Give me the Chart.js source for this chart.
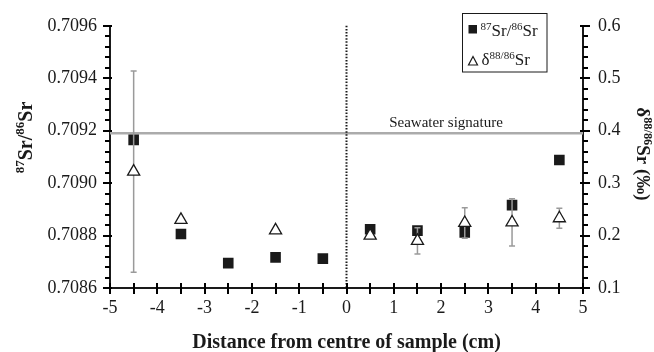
<!DOCTYPE html>
<html><head><meta charset="utf-8">
<script src="https://cdn.jsdelivr.net/npm/chart.js@4/dist/chart.umd.min.js"></script>
<style>html,body{margin:0;padding:0;background:#fff}#wrap{width:654px;height:352px}</style>
</head><body><div id="wrap"><canvas id="c" width="654" height="352"></canvas></div>
<script>
// ---- data ----
const distance = [-4.5, -3.5, -2.5, -1.5, -0.5, 0.5, 1.5, 2.5, 3.5, 4.5];
const sr8786 = [0.709165, 0.708806, 0.708695, 0.708717, 0.708712, 0.708824, 0.708819, 0.708812, 0.708916, 0.709088];
const d8886 = [0.322, 0.230, null, 0.210, null, 0.200, 0.190, 0.224, 0.225, 0.233];
const d8886Err = [0.192, 0, null, 0, null, 0, 0.025, 0.029, 0.045, 0.019];
const seawater8786 = 0.70919;
const xMajorTicks = [-5, -4, -3, -2, -1, 0, 1, 2, 3, 4, 5];
const leftMajorTicks = ['0.7086', '0.7088', '0.7090', '0.7092', '0.7094', '0.7096'];
const rightMajorTicks = ['0.1', '0.2', '0.3', '0.4', '0.5', '0.6'];

const FAM = "'Liberation Serif','Times New Roman',serif";
const INK = '#1a1a1a';

function near(v, arr) { return arr.some(a => Math.abs(Number(a) - v) < 1e-9); }
function fnt(size, bold) { return (bold ? 'bold ' : '') + size + 'px ' + FAM; }
function richWidth(ctx, parts, size, bold) {
  let w = 0;
  for (const [t, sup] of parts) { ctx.font = fnt(sup ? size * 0.65 : size, bold); w += ctx.measureText(t).width; }
  return w;
}
function drawRich(ctx, parts, x, y, size, bold, align) {
  const w = richWidth(ctx, parts, size, bold);
  let cx = align === 'center' ? x - w / 2 : x;
  ctx.textAlign = 'left'; ctx.textBaseline = 'alphabetic'; ctx.fillStyle = INK;
  for (const [t, sup] of parts) {
    ctx.font = fnt(sup ? size * 0.65 : size, bold);
    ctx.fillText(t, cx, sup ? y - size * 0.38 : y);
    cx += ctx.measureText(t).width;
  }
}
function tickValues(scale) {
  return (scale.ticks || []).map(t => t.value);
}

const decor = {
  id: 'decor',
  beforeDatasetsDraw(chart) {
    const {ctx, chartArea: a, scales} = chart;
    ctx.save();
    const ys = scales.y.getPixelForValue(seawater8786);
    ctx.strokeStyle = '#ababab'; ctx.lineWidth = 2.5;
    ctx.beginPath(); ctx.moveTo(a.left, ys); ctx.lineTo(a.right, ys); ctx.stroke();
    const x0 = scales.x.getPixelForValue(0);
    ctx.strokeStyle = INK; ctx.lineWidth = 2; ctx.setLineDash([1.5, 1.6]);
    ctx.beginPath(); ctx.moveTo(x0, a.top); ctx.lineTo(x0, a.bottom); ctx.stroke();
    ctx.setLineDash([]);
    ctx.fillStyle = INK; ctx.font = fnt(15, false); ctx.textAlign = 'center'; ctx.textBaseline = 'alphabetic';
    ctx.fillText('Seawater signature', 446, ys - 6);
    ctx.restore();
  },
  afterDatasetDraw(chart, args) {
    if (args.index !== 0) return;
    const {ctx, scales} = chart;
    ctx.save();
    ctx.strokeStyle = '#9a9a9a'; ctx.lineWidth = 1.5;
    distance.forEach((d, i) => {
      const v = d8886[i], e = d8886Err[i];
      if (v == null || !e) return;
      const x = scales.x.getPixelForValue(d);
      const yt = scales.y2.getPixelForValue(v + e), yb = scales.y2.getPixelForValue(v - e);
      ctx.beginPath();
      ctx.moveTo(x, yt); ctx.lineTo(x, yb);
      ctx.moveTo(x - 3, yt); ctx.lineTo(x + 3, yt);
      ctx.moveTo(x - 3, yb); ctx.lineTo(x + 3, yb);
      ctx.stroke();
    });
    ctx.restore();
  },
  afterDraw(chart) {
    const {ctx, chartArea: a, scales} = chart;
    ctx.save();
    ctx.setLineDash([]);
    ctx.strokeStyle = '#000'; ctx.lineWidth = 2;
    tickValues(scales.x).forEach(v => {
      const x = Math.round(scales.x.getPixelForValue(v));
      ctx.beginPath(); ctx.moveTo(x, a.bottom - 5); ctx.lineTo(x, a.bottom + 6); ctx.stroke();
    });
    tickValues(scales.y).forEach(v => {
      const y = Math.round(scales.y.getPixelForValue(v));
      const maj = near(v, leftMajorTicks);
      ctx.beginPath(); ctx.moveTo(a.left - (maj ? 7 : 5), y); ctx.lineTo(a.left + (maj ? 2 : 0), y); ctx.stroke();
    });
    tickValues(scales.y2).forEach(v => {
      const y = Math.round(scales.y2.getPixelForValue(v));
      const maj = near(v, rightMajorTicks);
      ctx.beginPath(); ctx.moveTo(a.right - (maj ? 3 : 0), y); ctx.lineTo(a.right + (maj ? 7 : 5), y); ctx.stroke();
    });
    ctx.save();
    ctx.translate(31.5, 137.5); ctx.rotate(-Math.PI / 2);
    drawRich(ctx, [['87', 1], ['Sr/', 0], ['86', 1], ['Sr', 0]], 0, 0, 20, true, 'center');
    ctx.restore();
    ctx.save();
    ctx.translate(636.5, 154); ctx.rotate(Math.PI / 2);
    drawRich(ctx, [['\u03b4', 0], ['88/86', 1], ['Sr (\u2030)', 0]], 0, 0, 19, true, 'center');
    ctx.restore();
    ctx.strokeStyle = INK; ctx.lineWidth = 1;
    ctx.strokeRect(462.5, 13.5, 84.5, 58.5);
    ctx.fillStyle = INK; ctx.fillRect(468.5, 25, 8.5, 8.5);
    ctx.beginPath(); ctx.moveTo(473, 56.5); ctx.lineTo(477.5, 65); ctx.lineTo(468.5, 65); ctx.closePath();
    ctx.fillStyle = '#fff'; ctx.fill(); ctx.lineWidth = 1.2; ctx.stroke();
    drawRich(ctx, [['87', 1], ['Sr/', 0], ['86', 1], ['Sr', 0]], 480.5, 36, 17, false, 'left');
    drawRich(ctx, [['\u03b4', 0], ['88/86', 1], ['Sr', 0]], 481.5, 65, 17, false, 'left');
    ctx.restore();
  }
};

const tickFont = {family: FAM, size: 18};

new Chart(document.getElementById('c'), {
  type: 'scatter',
  data: {
    datasets: [
      {
        label: '87Sr/86Sr', order: 1, yAxisID: 'y',
        data: distance.map((d, i) => ({x: d, y: sr8786[i]})),
        pointStyle: 'rect', pointRadius: 7.5, pointBackgroundColor: INK, pointBorderColor: INK, pointBorderWidth: 0,
        showLine: false
      },
      {
        label: '\u03b488/86Sr', order: 0, yAxisID: 'y2',
        data: distance.map((d, i) => ({x: d, y: d8886[i]})).filter(p => p.y != null),
        pointStyle: 'triangle', pointRadius: 7, pointBackgroundColor: '#fff', pointBorderColor: INK, pointBorderWidth: 1.3,
        showLine: false
      }
    ]
  },
  options: {
    responsive: false, animation: false, devicePixelRatio: 1,
    layout: {padding: {top: 17, left: 0, right: 0, bottom: 0}},
    plugins: {legend: {display: false}, tooltip: {enabled: false}},
    scales: {
      x: {
        type: 'linear', position: 'bottom', min: -5, max: 5,
        ticks: {stepSize: 0.5, autoSkip: false, maxRotation: 0, padding: 9, font: tickFont, color: INK,
          callback: v => near(v, xMajorTicks) ? String(Math.round(v)) : ''},
        grid: {display: false, drawTicks: false},
        border: {display: true, color: INK, width: 2},
        title: {display: true, text: 'Distance from centre of sample (cm)', color: INK,
          font: {family: FAM, size: 20, weight: 'bold', lineHeight: 0.9}, padding: 0},
        afterFit: s => { s.height = 64; }
      },
      y: {
        type: 'linear', position: 'left', min: 0.7086, max: 0.7096,
        ticks: {stepSize: 0.00004, autoSkip: false, padding: 13, font: tickFont, color: INK,
          callback: v => { const m = leftMajorTicks.find(a => Math.abs(Number(a) - v) < 1e-9); return m || ''; }},
        grid: {display: false, drawTicks: false},
        border: {display: true, color: INK, width: 2},
        afterFit: s => { s.width = 110; }
      },
      y2: {
        type: 'linear', position: 'right', min: 0.1, max: 0.6,
        ticks: {stepSize: 0.02, autoSkip: false, padding: 15, font: tickFont, color: INK,
          callback: v => { const m = rightMajorTicks.find(a => Math.abs(Number(a) - v) < 1e-9); return m || ''; }},
        grid: {display: false, drawTicks: false},
        border: {display: true, color: INK, width: 2},
        afterFit: s => { s.width = 71; }
      }
    }
  },
  plugins: [decor]
});
</script></body></html>
